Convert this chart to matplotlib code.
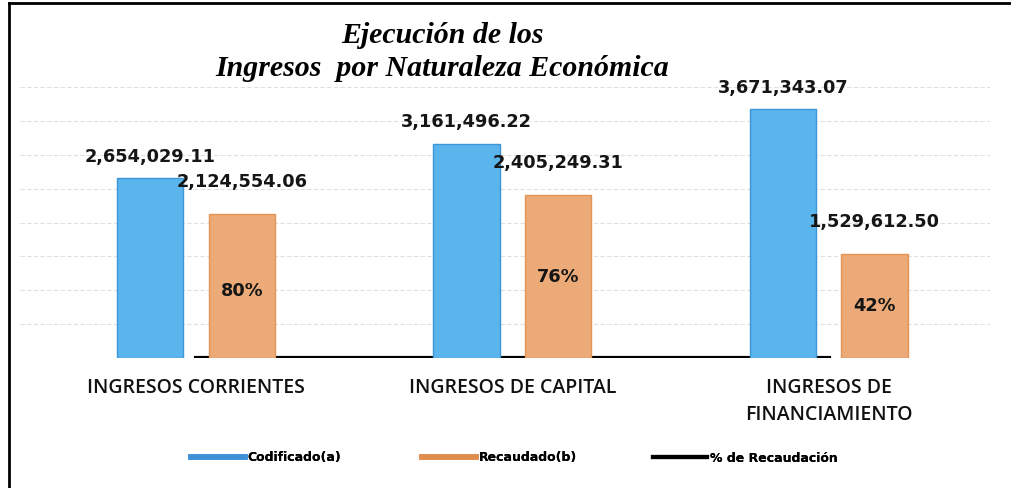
import matplotlib
matplotlib.use('Agg')
import matplotlib.pyplot as plt
from matplotlib.lines import Line2D
import numpy as np

categorias = ['INGRESOS CORRIENTES', 'INGRESOS DE CAPITAL', 'INGRESOS DE\nFINANCIAMIENTO']
codificado = [2654029.11, 3161496.22, 3671343.07]
recaudado = [2124554.06, 2405249.31, 1529612.50]
porcentaje = [0.80, 0.76, 0.42]
leyenda = ['Codificado(a)', 'Recaudado(b)', '% de Recaudación']

azul = '#5AB5EC'
naranja = '#EBAA78'

fig = plt.figure(figsize=(10.11, 4.88), dpi=100)
ax = fig.add_axes([20 / 1011, 1 - 358 / 488, 970 / 1011, 271 / 488])

x = np.arange(len(categorias))
off = 0.145
w = 0.21

ax.bar(x - off, codificado, w, color=azul, edgecolor='#3D94D6', linewidth=1, zorder=2)
ax.bar(x + off, recaudado, w, color=naranja, edgecolor='#E39555', linewidth=1, zorder=2)
# % de recaudacion sobre el mismo eje -> queda pegado a cero
ax.plot(x, porcentaje, color='black', lw=3, zorder=1)

lab = dict(fontsize=12.8, fontweight='bold', family='DejaVu Sans', color='#151515')
for i in range(len(x)):
    ax.text(x[i] - off, codificado[i] + 320000, f'{codificado[i]:,.2f}', ha='center', va='center', **lab)
    ax.text(x[i] + off, recaudado[i] + 480000, f'{recaudado[i]:,.2f}', ha='center', va='center', **lab)

# etiquetas de porcentaje dentro de las barras naranjas
pct_y = [0.99e6, 1.2e6, 0.77e6]
for i in range(len(x)):
    ax.text(x[i] + off, pct_y[i], f'{porcentaje[i]:.0%}', ha='center', va='center', **lab)

ax.set_xlim(-0.556, 2.51)
ax.set_ylim(0, 4.0e6)
ax.set_yticks(np.arange(0, 4.01e6, 0.5e6))
ax.yaxis.grid(True, color='#e0e0e0', lw=0.8, ls=(0, (4, 2)))
ax.set_axisbelow(True)
ax.tick_params(left=False, labelleft=False, bottom=False)
ax.set_xticks(x)
ax.set_xticklabels(categorias, fontsize=14, family='Open Sans', fontweight='semibold',
                   linespacing=1.45, color='#111111')
ax.tick_params(axis='x', pad=11)
for s in ax.spines.values():
    s.set_visible(False)

fig.text(442 / 1011, 1 - 52 / 488, 'Ejecución de los\nIngresos  por Naturaleza Económica',
         ha='center', va='center', family='Liberation Serif', style='italic',
         fontweight='bold', fontsize=21.5, linespacing=1.25)

# leyenda: tres entradas colocadas por separado
handles = [Line2D([], [], color='#3D8FD8', lw=4),
           Line2D([], [], color='#E08C4E', lw=4),
           Line2D([], [], color='black', lw=3)]
ley_x = [191, 422, 653]
for h, t, lx in zip(handles, leyenda, ley_x):
    lg = fig.legend([h], [t], loc='center left', bbox_to_anchor=(lx / 1011, 1 - 458 / 488),
                    frameon=False, handlelength=4.3, handletextpad=0.25, borderpad=0,
                    borderaxespad=0, prop={'family': 'DejaVu Sans', 'size': 9, 'weight': 'bold'})
    fig.add_artist(lg)

# marco del recuadro
fig.add_artist(Line2D([9 / 1011, 9 / 1011], [0, 1 - 3 / 488], color='black', lw=2))
fig.add_artist(Line2D([9 / 1011, 1], [1 - 3 / 488, 1 - 3 / 488], color='black', lw=2))

fig.savefig('out.png', dpi=100)
